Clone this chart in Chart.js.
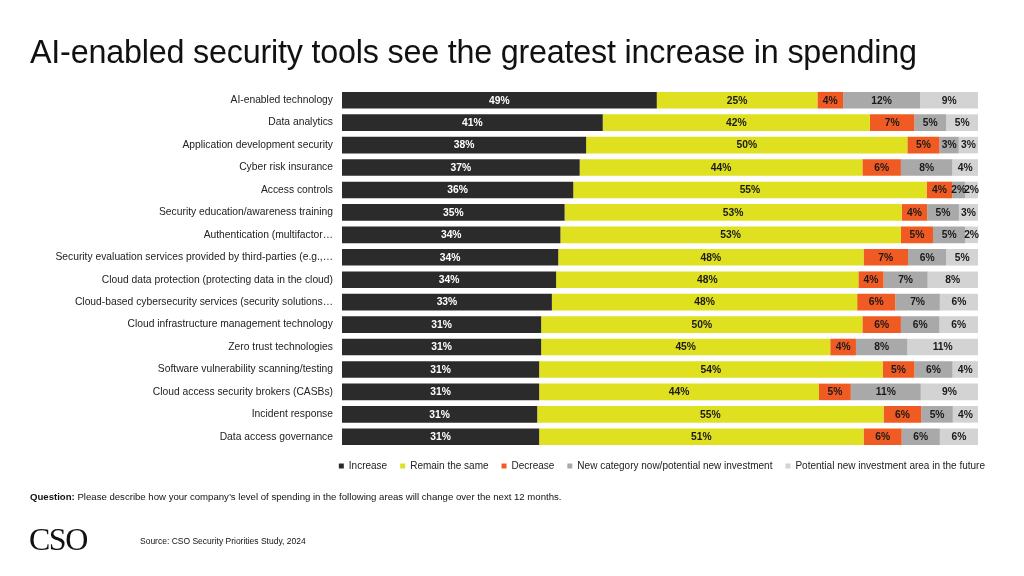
<!DOCTYPE html>
<html>
<head>
<meta charset="utf-8">
<script src="https://cdn.jsdelivr.net/npm/chart.js@4.4.1/dist/chart.umd.min.js"></script>
<style>
  html, body { margin:0; padding:0; background:#fff; }
  body { width:1024px; height:576px; position:relative; overflow:hidden; font-family:"Liberation Sans", Arial, sans-serif; }
  #c { position:absolute; left:0; top:0; width:1024px; height:576px; }
  .title { position:absolute; left:30px; top:34px; font-size:32.3px; color:#111; white-space:nowrap; letter-spacing:-0.2px; }
  .question { position:absolute; left:30px; top:491px; font-size:9.6px; color:#111; white-space:nowrap; }
  .logo { position:absolute; left:29px; top:521px; font-family:"Liberation Serif","Times New Roman",serif; font-size:32px; color:#111; letter-spacing:-1.5px; }
  .source { position:absolute; left:140px; top:536px; font-size:8.5px; color:#111; white-space:nowrap; }
</style>
</head>
<body>
<canvas id="c" width="1024" height="576"></canvas>
<div class="title">AI-enabled security tools see the greatest increase in spending</div>
<div class="question"><b>Question:</b> Please describe how your company’s level of spending in the following areas will change over the next 12 months.</div>
<div class="logo">CSO</div>
<div class="source">Source: CSO Security Priorities Study, 2024</div>
<script>
const categories = [
  "AI-enabled technology",
  "Data analytics",
  "Application development security",
  "Cyber risk insurance",
  "Access controls",
  "Security education/awareness training",
  "Authentication (multifactor…",
  "Security evaluation services provided by third-parties (e.g.,…",
  "Cloud data protection (protecting data in the cloud)",
  "Cloud-based cybersecurity services (security solutions…",
  "Cloud infrastructure management technology",
  "Zero trust technologies",
  "Software vulnerability scanning/testing",
  "Cloud access security brokers (CASBs)",
  "Incident response",
  "Data access governance"
];
const seriesNames = ["Increase", "Remain the same", "Decrease", "New category now/potential new investment", "Potential new investment area in the future"];
const increase  = [49, 41, 38, 37, 36, 35, 34, 34, 34, 33, 31, 31, 31, 31, 31, 31];
const remain    = [25, 42, 50, 44, 55, 53, 53, 48, 48, 48, 50, 45, 54, 44, 55, 51];
const decrease  = [ 4,  7,  5,  6,  4,  4,  5,  7,  4,  6,  6,  4,  5,  5,  6,  6];
const newCat    = [12,  5,  3,  8,  2,  5,  5,  6,  7,  7,  6,  8,  6, 11,  5,  6];
const potential = [ 9,  5,  3,  4,  2,  3,  2,  5,  8,  6,  6, 11,  4,  9,  4,  6];

const raw = [increase, remain, decrease, newCat, potential];
const colors = ["#2b2b2b", "#dfe01f", "#f05b23", "#a9a9a9", "#d3d3d3"];
const labelColors = ["#ffffff", "#1a1a1a", "#1a1a1a", "#1a1a1a", "#1a1a1a"];
const rowSums = categories.map((_, i) => raw.reduce((s, arr) => s + arr[i], 0));

const datasets = raw.map((arr, k) => ({
  label: seriesNames[k],
  data: arr.map((v, i) => v / rowSums[i] * 100),
  rawValues: arr,
  backgroundColor: colors[k],
  borderWidth: 0,
  barPercentage: 0.74,
  categoryPercentage: 1.0
}));

const valueLabels = {
  id: 'valueLabels',
  afterDatasetsDraw(chart) {
    const ctx = chart.ctx;
    ctx.save();
    ctx.font = 'bold 10.3px "Liberation Sans", Arial, sans-serif';
    ctx.textAlign = 'center';
    ctx.textBaseline = 'middle';
    chart.data.datasets.forEach((ds, k) => {
      const meta = chart.getDatasetMeta(k);
      meta.data.forEach((el, i) => {
        const v = ds.rawValues[i];
        ctx.fillStyle = labelColors[k];
        ctx.fillText(v + '%', (el.x + el.base) / 2, el.y + 0.5);
      });
    });
    ctx.restore();
  }
};

new Chart(document.getElementById('c'), {
  type: 'bar',
  data: { labels: categories, datasets },
  options: {
    indexAxis: 'y',
    responsive: false,
    animation: false,
    layout: { padding: { top: 89, left: 0, right: 26, bottom: 95 } },
    scales: {
      x: { stacked: true, display: false, min: 0, max: 100 },
      y: {
        stacked: true,
        grid: { display: false, drawTicks: false },
        border: { display: false },
        ticks: { color: '#222', padding: 9, autoSkip: false, font: { family: '"Liberation Sans", Arial, sans-serif', size: 10.3 } },
        afterFit(s) { s.width = 342; }
      },
      y2: {
        type: 'category',
        position: 'right',
        grid: { display: false, drawTicks: false },
        border: { display: false },
        ticks: { display: false },
        afterFit(s) { s.width = 20; }
      }
    },
    plugins: {
      tooltip: { enabled: false },
      legend: {
        position: 'bottom',
        align: 'end',
        labels: {
          boxWidth: 5,
          boxHeight: 5,
          padding: 13,
          color: '#222',
          font: { family: '"Liberation Sans", Arial, sans-serif', size: 10 }
        }
      }
    }
  },
  plugins: [valueLabels]
});
</script>
</body>
</html>
